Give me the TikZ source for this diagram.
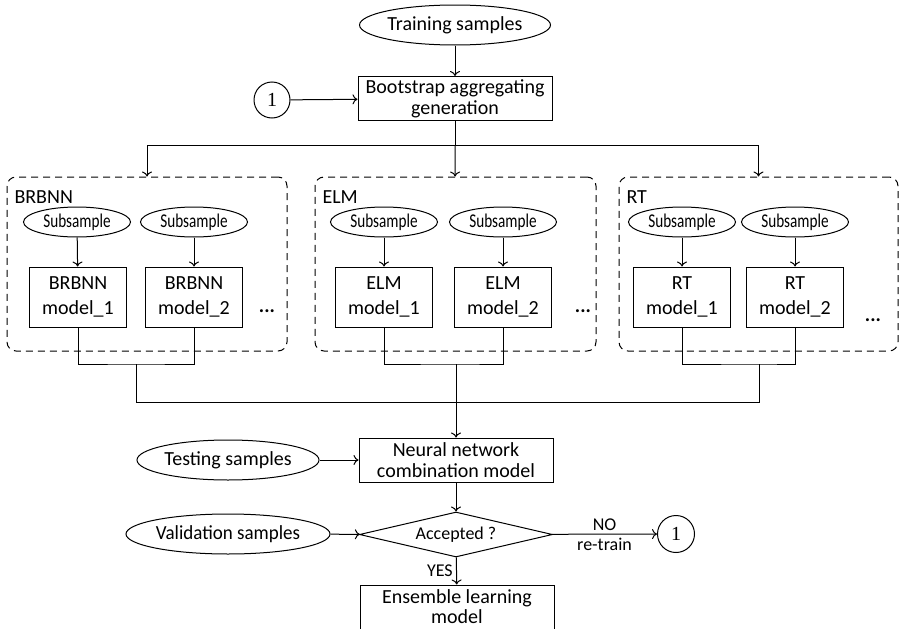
\documentclass[tikz,border=0pt]{standalone}
\usepackage{fontspec}
\setmainfont{Carlito}
\newfontfamily\numfont{Liberation Serif}
\newfontfamily\narrowfont[FakeStretch=0.78]{Carlito}
\newfontfamily\semifont[FakeStretch=0.95]{Carlito}
\usetikzlibrary{arrows.meta,shapes.geometric}
\tikzset{
	sample/.style={
		% The shape:
		ellipse,inner sep=0pt,
		minimum width=182pt,minimum height=40pt,
		% The border:
		draw,line width=1pt,
	}}
\tikzset{
	subsample/.style={
		% The shape:
		ellipse,inner sep=0pt,
		minimum width=107pt,minimum height=30pt,
		% The border:
		draw,line width=1pt,
		font=\narrowfont\fontsize{19.5}{20}\selectfont,
	}}
\tikzset{
	process/.style={
		% The shape:
		rectangle,inner sep=0pt,align=center,
		minimum width=194pt,minimum height=44pt,
		% The border:
		draw,line width=1pt,
	}}
\tikzset{
	model/.style={
		% The shape:
		rectangle,inner sep=0pt,align=center,
		minimum width=97pt,minimum height=60pt,
		% The border:
		draw,line width=1pt,
		font=\fontsize{20}{25}\selectfont,
	}}
\tikzset{
	group/.style={
		% The shape:
		rectangle,rounded corners=9pt,
		minimum width=280pt,minimum height=174pt,
		% The border:
		draw,line width=1pt,dash pattern=on 7pt off 5pt,
	}}
\tikzset{
	connector/.style={
		circle,inner sep=0pt,minimum size=36pt,
		draw,line width=1pt,
		font=\numfont\fontsize{20}{21}\selectfont,
	}}

\begin{document}
\begin{tikzpicture}[x=1pt,y=-1pt,line width=1pt,
	>={To[length=5pt,width=10pt]},
	every node/.append style={font=\fontsize{20}{21}\selectfont}]
	\useasboundingbox (0,0) rectangle (900,629);
	% top part
	\node[sample] (train) at (455,25) {Training samples};
	\node[process] (boot) at (455,98.5) {Bootstrap aggregating\\generation};
	\node[connector] (c1) at (272,100) {1};
	\coordinate (fork) at (455,145);
	% the three groups
	\node[group] (grpB) at (147,264) {};
	\node[group,minimum width=281pt] (grpE) at (455.5,264) {};
	\node[group,minimum width=279pt] (grpR) at (758.5,264) {};
	\node[anchor=west,inner sep=0pt] (labB) at (14,197) {BRBNN};
	\node[anchor=west,inner sep=0pt] (labE) at (322,197) {ELM};
	\node[anchor=west,inner sep=0pt] (labR) at (626,197) {RT};
	\node[subsample] (sB1) at (77,222) {Subsample};
	\node[subsample] (sB2) at (194,222) {Subsample};
	\node[subsample] (sE1) at (384,222) {Subsample};
	\node[subsample] (sE2) at (503,222) {Subsample};
	\node[subsample] (sR1) at (682,222) {Subsample};
	\node[subsample] (sR2) at (795,222) {Subsample};
	\node[model] (mB1) at (78,297) {BRBNN\\model\_1};
	\node[model] (mB2) at (194,297) {BRBNN\\model\_2};
	\node[model] (mE1) at (384,297) {ELM\\model\_1};
	\node[model] (mE2) at (503,297) {ELM\\model\_2};
	\node[model] (mR1) at (682,297) {RT\\model\_1};
	\node[model] (mR2) at (795,297) {RT\\model\_2};
	\node (dB) at (267,311) {\textbf{...}};
	\node (dE) at (583,311) {\textbf{...}};
	\node (dR) at (873,320) {\textbf{...}};
	\coordinate (jB) at (136,364);
	\coordinate (jE) at (456,364);
	\coordinate (jR) at (759,364);
	\coordinate (merge) at (456,402);
	% bottom part
	\node[process] (comb) at (456,460) {Neural network\\combination model};
	\node[sample] (test) at (228,460) {Testing samples};
	\node[diamond,aspect=4.3,inner sep=0pt,minimum width=193pt,minimum height=45pt,draw,
		font=\fontsize{18}{19}\selectfont] (acc) at (456,534.5) {Accepted ?};
	\node[sample,font=\semifont\fontsize{20}{21}\selectfont] (valid) at (228,534) {Validation samples};
	\node[connector,minimum size=37pt] (c2) at (676,534) {1};
	\node[process,minimum height=44pt,font=\fontsize{20}{20}\selectfont] (ens) at (457,607) {Ensemble learning\\model};

	\draw[->] (train) -- (boot);
	\draw[->] (c1) -- (boot);
	\draw (boot) -- (fork);
	\draw[->] (fork) -| (grpB);
	\draw[->] (fork) -- (grpE);
	\draw[->] (fork) -| (grpR);
	\foreach \s/\m in {sB1/mB1,sB2/mB2,sE1/mE1,sE2/mE2,sR1/mR1,sR2/mR2}
		\draw[->] (\s) -- (\m);
	\draw (mB1) |- (jB) -| (mB2);
	\draw (mE1) |- (jE) -| (mE2);
	\draw (mR1) |- (jR) -| (mR2);
	\draw (jB) |- (merge);
	\draw (jR) |- (merge);
	\draw[->] (jE) -- (comb);
	\draw[->] (test) -- (comb);
	\draw[->] (comb) -- (acc);
	\draw[->] (valid) -- (acc);
	\draw[->] (acc) -- (c2)
		node[midway,above,font=\fontsize{18}{19}\selectfont] {NO}
		node[midway,below,font=\fontsize{18}{19}\selectfont] {re-train};
	\draw[->] (acc) -- (ens)
		node[midway,left,font=\fontsize{18}{19}\selectfont] {YES};
\end{tikzpicture}
\end{document}
